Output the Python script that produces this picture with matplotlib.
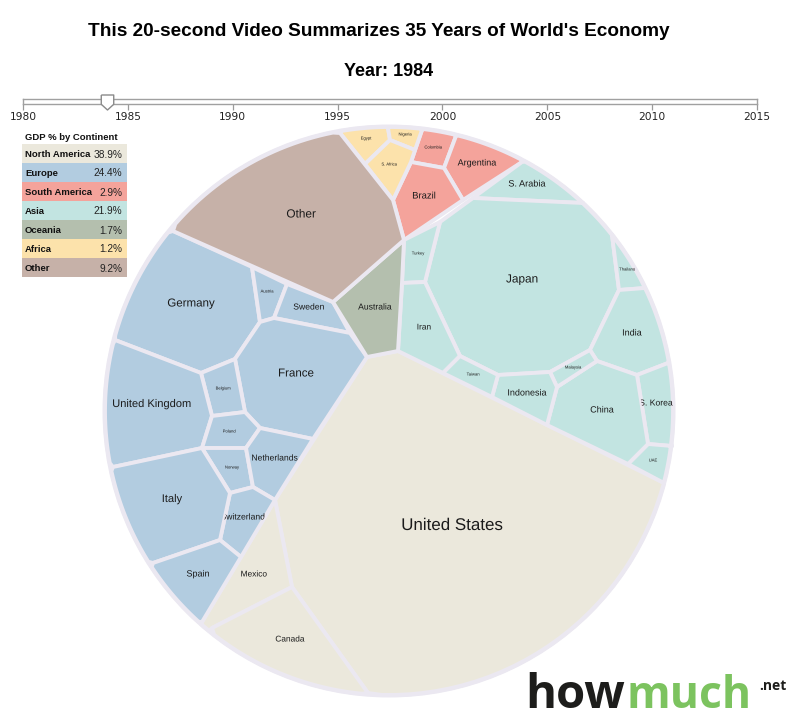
import numpy as np
import matplotlib
matplotlib.use("Agg")
import matplotlib.pyplot as plt
import matplotlib.patheffects as pe
from matplotlib.patches import Circle, Polygon, Rectangle
from matplotlib.path import Path

# Legend data
continents = ["North America", "Europe", "South America", "Asia", "Oceania", "Africa", "Other"]
gdp_share = [38.9, 24.4, 2.9, 21.9, 1.7, 1.2, 9.2]
continent_colors = ["#ebe8dc", "#b2cce0", "#f4a39b", "#c2e4e1", "#b4bfae", "#fce2ab", "#c6b1a8"]

# Slider data
year_ticks = [1980, 1985, 1990, 1995, 2000, 2005, 2010, 2015]
current_year = 1984

# Countries per cell, in the same order as the lists below
countries = [
    "United States", "Mexico", "Canada",
    "Germany", "Austria", "Sweden", "France", "Belgium", "United Kingdom", "Poland",
    "Norway", "Netherlands", "Switzerland", "Italy", "Spain",
    "Colombia", "Argentina", "Brazil",
    "S. Arabia", "Japan", "Turkey", "Iran", "Thailand", "India", "S. Korea", "UAE",
    "China", "Malaysia", "Indonesia", "Taiwan",
    "Australia", "Egypt", "Nigeria", "S. Africa", "Other",
]
country_continent = [0] * 3 + [1] * 12 + [2] * 3 + [3] * 12 + [4] + [5] * 3 + [6]

# Voronoi cell outlines (pixels)
cell_outlines = [
    [(398, 351), (664, 483), (368, 693), (292, 587), (275, 500), (367, 357)],
    [(275, 500), (292, 587), (212, 628), (202, 622)],
    [(212, 628), (292, 587), (368, 693)],
    [(173, 231), (252, 267), (260, 322), (235, 359), (201, 373), (115, 340)],
    [(252, 267), (287, 284), (274, 318), (260, 322)],
    [(287, 284), (333, 302), (350, 333), (274, 318)],
    [(235, 359), (260, 322), (274, 318), (350, 333), (367, 357), (313, 439), (260, 428), (245, 412)],
    [(201, 373), (235, 359), (245, 412), (212, 416)],
    [(115, 340), (201, 373), (212, 416), (202, 448), (113, 467)],
    [(212, 416), (245, 412), (260, 428), (246, 448), (202, 448)],
    [(202, 448), (246, 448), (253, 487), (230, 493)],
    [(246, 448), (260, 428), (313, 439), (275, 500), (253, 487)],
    [(230, 493), (253, 487), (275, 500), (241, 557), (220, 540)],
    [(113, 467), (202, 448), (230, 493), (220, 540), (153, 563)],
    [(153, 563), (220, 540), (241, 557), (202, 622)],
    [(422, 130), (456, 136), (444, 168), (411, 162)],
    [(456, 136), (522, 162), (463, 200), (444, 168)],
    [(411, 162), (444, 168), (463, 200), (404, 240), (393, 200)],
    [(473, 198), (522, 162), (583, 203)],
    [(473, 198), (583, 203), (612, 235), (619, 290), (590, 350), (550, 372), (498, 375),
     (460, 356), (425, 282), (440, 222)],
    [(404, 240), (440, 222), (425, 282), (402, 283)],
    [(402, 283), (425, 282), (460, 356), (443, 373), (398, 351)],
    [(612, 235), (645, 288), (619, 290)],
    [(619, 290), (645, 288), (668, 363), (637, 375), (597, 361), (590, 350)],
    [(637, 375), (668, 363), (672, 446), (648, 444)],
    [(648, 444), (672, 446), (664, 483), (628, 464)],
    [(597, 361), (637, 375), (648, 444), (628, 464), (547, 425), (557, 387)],
    [(550, 372), (590, 350), (597, 361), (557, 387)],
    [(498, 375), (550, 372), (557, 387), (547, 425), (492, 397)],
    [(460, 356), (498, 375), (492, 397), (443, 373)],
    [(404, 240), (402, 283), (398, 351), (367, 357), (333, 302)],
    [(340, 133), (388, 128), (390, 140), (365, 164)],
    [(388, 128), (422, 130), (415, 150), (390, 140)],
    [(365, 164), (390, 140), (415, 150), (411, 162), (393, 200)],
    [(173, 231), (340, 133), (393, 200), (404, 240), (333, 302)],
]
label_pos = [
    (452, 524), (254, 574), (290, 639),
    (191, 302), (267, 291), (309, 306), (296, 372), (223, 388), (152, 403), (229, 431),
    (232, 467), (275, 457), (243, 516), (172, 498), (198, 573),
    (433, 147), (477, 162), (424, 195),
    (527, 183), (522, 278), (418, 253), (424, 327), (627, 269), (632, 332), (656, 402), (653, 460),
    (602, 409), (573, 367), (527, 392), (473, 374),
    (375, 306), (366, 138), (405, 134), (389, 164), (301, 213),
]
label_size = [
    12.2, 6, 6,
    8.3, 3, 6.2, 8.3, 3, 8, 3,
    3, 6.2, 6.2, 8, 6.5,
    3, 6.5, 6.8,
    6.6, 8.5, 3, 6, 3, 6.5, 6.2, 3,
    6.5, 3, 6.5, 3,
    6.2, 3, 3, 3, 8.5,
]

CX, CY, R = 389, 411, 284
GAP = "#ebe8f1"


def with_rim_arcs(points):
    """Add arc points between neighbouring vertices that both sit on the rim"""
    out = []
    for i, (x0, y0) in enumerate(points):
        x1, y1 = points[(i + 1) % len(points)]
        out.append((x0, y0))
        if abs(np.hypot(x0 - CX, y0 - CY) - R) < 5 and abs(np.hypot(x1 - CX, y1 - CY) - R) < 5:
            a0 = np.arctan2(y0 - CY, x0 - CX)
            a1 = np.arctan2(y1 - CY, x1 - CX)
            delta = (a1 - a0 + np.pi) % (2 * np.pi) - np.pi
            for t in np.linspace(0, 1, 30)[1:-1]:
                out.append((CX + R * np.cos(a0 + delta * t), CY + R * np.sin(a0 + delta * t)))
    return out


fig = plt.figure(figsize=(7.94, 7.2), dpi=100)
ax = fig.add_axes([0, 0, 1, 1])
ax.set_xlim(0, 794)
ax.set_ylim(720, 0)
ax.axis("off")

ax.text(379, 30, "This 20-second Video Summarizes 35 Years of World's Economy",
        family="Liberation Sans", fontweight="bold", fontsize=13.7, ha="center", va="center_baseline")
ax.text(389, 70, "Year: %d" % current_year,
        family="Liberation Sans", fontweight="bold", fontsize=13, ha="center", va="center_baseline")

# Voronoi cells
ax.add_patch(Circle((CX, CY), R, facecolor="none", edgecolor=GAP, linewidth=3.6, zorder=1))
for name, cont, outline, pos, size in zip(countries, country_continent, cell_outlines, label_pos, label_size):
    cell = Polygon(with_rim_arcs(outline), closed=True, facecolor=continent_colors[cont],
                   edgecolor=GAP, linewidth=2.8, joinstyle="round", zorder=2)
    ax.add_patch(cell)
    label = ax.text(pos[0], pos[1], name, family="Liberation Sans", fontsize=size,
                    color="#1a1a1a", ha="center", va="center_baseline", zorder=3)
    # labels wider than their cell get cut off at the cell edge;
    # Agg only honours a clip path for text drawn through a path effect
    label.set_clip_path(cell)
    label.set_clip_on(True)
    label.set_path_effects([pe.Normal()])

# Legend table
row_h = 19.0
ax.text(25, 137, "GDP % by Continent", family="Liberation Sans", fontweight="bold",
        fontsize=6.8, ha="left", va="center_baseline", color="#111111")
for i, (cont, share, color) in enumerate(zip(continents, gdp_share, continent_colors)):
    top = 144 + i * row_h
    ax.add_patch(Rectangle((22, top), 105, row_h, facecolor=color, edgecolor="none", zorder=2))
    ax.text(25, top + row_h / 2, cont, family="Liberation Sans", fontweight="bold",
            fontsize=6.8, ha="left", va="center_baseline", color="#111111", zorder=3)
    ax.text(122, top + row_h / 2, "%.1f%%" % share, family="Liberation Sans",
            fontsize=7.3, ha="right", va="center_baseline", color="#222222", zorder=3)

# Logo
ax.text(525, 708, "how", family="Open Sans", fontweight="bold", fontsize=34,
        color="#1d1d1b", ha="left", va="baseline")
ax.text(626, 708, "much", family="Open Sans", fontweight="bold", fontsize=32,
        color="#7cc35f", ha="left", va="baseline")
ax.text(759, 690, ".net", family="Open Sans", fontweight="bold", fontsize=10,
        color="#1d1d1b", ha="left", va="baseline")

# Year slider, on its own axes so the years go through a real scale
slider = fig.add_axes([23 / 794, 1 - 104 / 720, (757 - 23) / 794, 5 / 720], facecolor="white")
slider.set_xlim(year_ticks[0], year_ticks[-1])
slider.set_ylim(0, 1)
slider.set_yticks([])
slider.set_xticks(year_ticks)
slider.tick_params(axis="x", length=4, width=0.9, color="#9a9a9a", pad=2,
                   labelsize=7.7, labelcolor="#222222")
for side in slider.spines.values():
    side.set_color("#a0a0a0")
    side.set_linewidth(1.0)
handle = Path([(-0.83, 1), (0.83, 1), (0.83, -0.24), (0, -1), (-0.83, -0.24), (-0.83, 1)])
slider.plot([current_year], [0.5], marker=handle, markersize=10.8, markerfacecolor="white",
            markeredgecolor="#8a8a8a", markeredgewidth=1.0, clip_on=False, zorder=5)

fig.savefig("out.png", dpi=100)
